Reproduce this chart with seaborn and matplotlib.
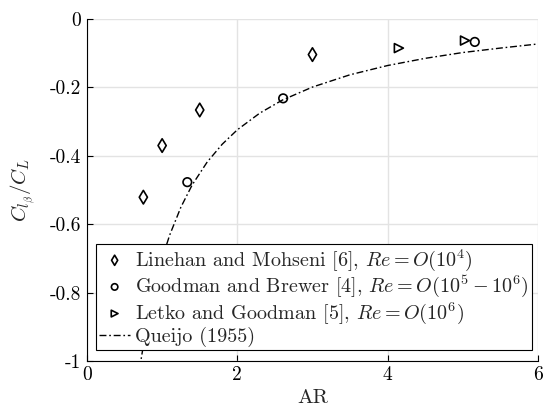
import matplotlib
matplotlib.use("Agg")
import matplotlib.pyplot as plt
import seaborn as sns
import pandas as pd

# --- data ---
linehan_ar = [0.75, 1.0, 1.5, 3.0]
linehan_val = [-0.521, -0.370, -0.266, -0.104]

goodman_ar = [1.335, 2.61, 5.16]
goodman_val = [-0.477, -0.232, -0.067]

letko_ar = [4.15, 5.03]
letko_val = [-0.085, -0.063]

queijo_ar = [0.70, 0.80, 0.90, 1.0, 1.1, 1.25, 1.4, 1.6, 1.8, 2.0, 2.3, 2.6,
             3.0, 3.5, 4.0, 4.5, 5.0, 5.5, 6.0]
queijo_val = [-1.022, -0.888, -0.784, -0.700, -0.632, -0.550, -0.485, -0.418,
              -0.366, -0.324, -0.275, -0.237, -0.199, -0.163, -0.136, -0.115,
              -0.098, -0.085, -0.073]

xticks = [0, 2, 4, 6]
xtick_labels = ["0", "2", "4", "6"]
yticks = [-1, -0.8, -0.6, -0.4, -0.2, 0]
ytick_labels = ["-1", "-0.8", "-0.6", "-0.4", "-0.2", "0"]

labels = [
    r"Linehan and Mohseni [6], $Re=O(10^4)$",
    r"Goodman and Brewer [4], $Re=O(10^5 - 10^6)$",
    r"Letko and Goodman [5], $Re=O(10^6)$",
    "Queijo (1955)",
]

sns.set_theme(style="white")
plt.rcParams["font.family"] = ["cmr10", "DejaVu Serif"]
plt.rcParams["mathtext.fontset"] = "cm"
plt.rcParams["axes.unicode_minus"] = False
plt.rcParams["axes.formatter.use_mathtext"] = True

fig = plt.figure(figsize=(5.45, 4.08), dpi=100)
ax = fig.add_axes([0.1596, 0.1152, 0.8274, 0.8382])

df_q = pd.DataFrame({"AR": queijo_ar, "val": queijo_val})
sns.lineplot(data=df_q, x="AR", y="val", ax=ax, color="black", lw=1.0,
             linestyle=(0, (5, 2, 1.2, 2)), label=labels[3], zorder=2)

sns.scatterplot(x=linehan_ar, y=linehan_val, ax=ax, marker="d", s=48,
                facecolors="none", edgecolor="black", linewidth=1.2,
                label=labels[0], zorder=3)
sns.scatterplot(x=goodman_ar, y=goodman_val, ax=ax, marker="o", s=38,
                facecolors="none", edgecolor="black", linewidth=1.2,
                label=labels[1], zorder=3)
sns.scatterplot(x=letko_ar, y=letko_val, ax=ax, marker=">", s=42,
                facecolors="none", edgecolor="black", linewidth=1.2,
                label=labels[2], zorder=3)

ax.set_xlim(0, 6)
ax.set_ylim(-1, 0)
ax.set_xticks(xticks)
ax.set_xticklabels(xtick_labels)
ax.set_yticks(yticks)
ax.set_yticklabels(ytick_labels)
ax.tick_params(direction="in", length=4, width=0.8, colors="black",
               labelsize=14, pad=4, top=False, right=False, bottom=True, left=True)
ax.grid(True, color="#e3e3e3", linewidth=1.0)
ax.set_axisbelow(True)
for s in ["top", "right"]:
    ax.spines[s].set_visible(False)
for s in ["left", "bottom"]:
    ax.spines[s].set_color("black")
    ax.spines[s].set_linewidth(0.8)

ax.set_xlabel("AR", fontsize=15, labelpad=3)
ax.set_ylabel(r"$C_{l_\beta}/C_L$", fontsize=15, labelpad=9)

handles, labs = ax.get_legend_handles_labels()
order = [labs.index(l) for l in labels]
leg = ax.legend([handles[i] for i in order], [labs[i] for i in order],
                loc="lower left", bbox_to_anchor=(0.02, 0.032),
                fontsize=14.5, frameon=True, fancybox=False, framealpha=1,
                edgecolor="black", borderpad=0.15, labelspacing=0.05,
                handlelength=1.55, handletextpad=0.25, borderaxespad=0,
                markerscale=0.75)
leg.get_frame().set_linewidth(0.8)

fig.savefig("out.png", dpi=100)
